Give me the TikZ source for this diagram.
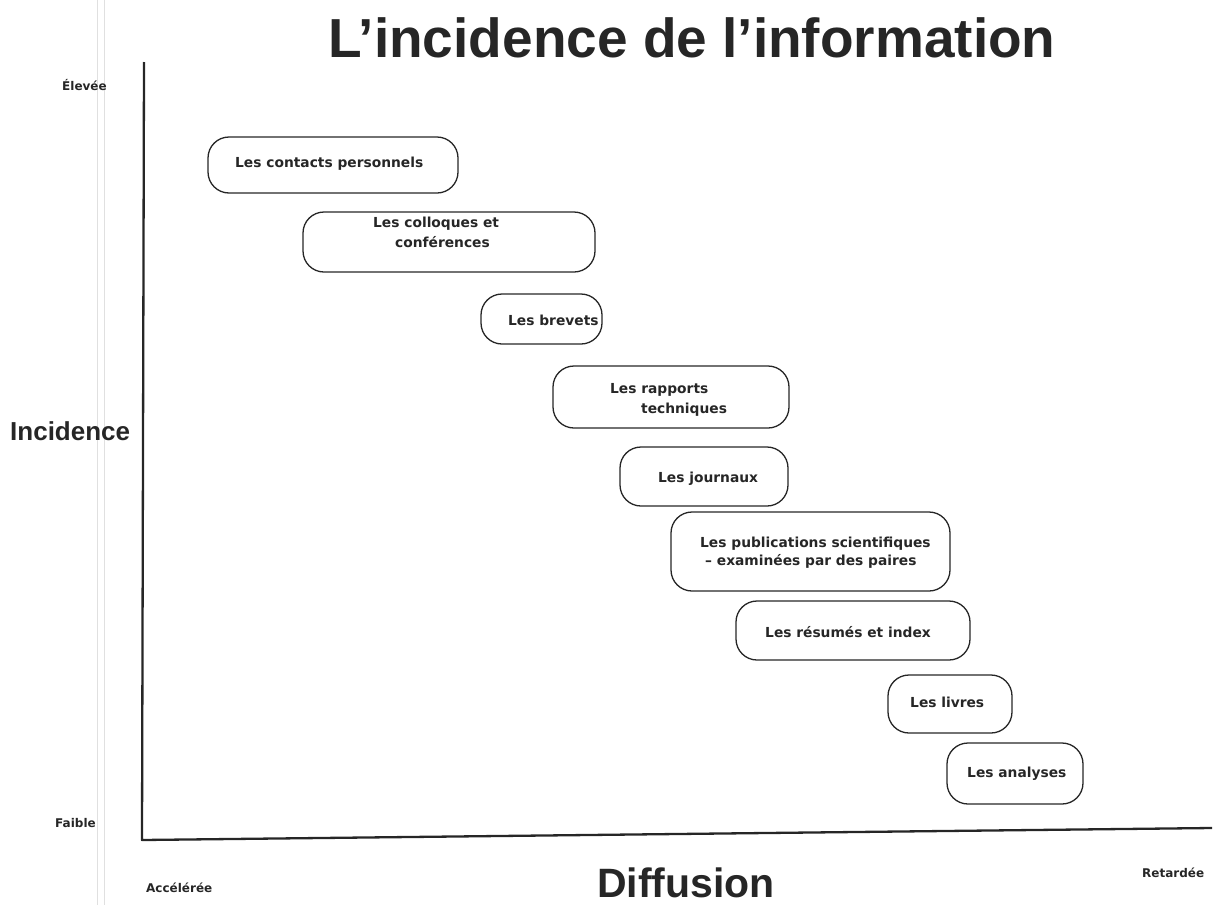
\documentclass[tikz,border=0pt]{standalone}
\usepackage{fontspec}
\setmainfont{DejaVu Sans}
\newfontfamily\headfont{Liberation Sans}
\usetikzlibrary{fit}

\tikzset{
  pill/.style={draw=black!85, line width=1.3pt, rounded corners=21pt, inner sep=0pt},
  lbl/.style={font=\bfseries\fontsize{13.8}{16}\selectfont, text=black!85, inner sep=0pt, anchor=base west},
  tick/.style={font=\bfseries\fontsize{12}{14}\selectfont, text=black!85, inner sep=0pt, anchor=base west},
  axis/.style={draw=black!85, line width=2.3pt, line join=round},
  crease/.style={draw=black!12, line width=0.7pt}
}

\begin{document}
\begin{tikzpicture}[x=1pt, y=-1pt]
  \useasboundingbox (0,0) rectangle (1215,905);

  % faint fold lines on the page
  \coordinate (f1t) at (97,0);   \coordinate (f1b) at (97,905);
  \coordinate (f2t) at (104,0);  \coordinate (f2b) at (104,905);
  \draw[crease] (f1t) -- (f1b);
  \draw[crease] (f2t) -- (f2b);

  % title
  \node[inner sep=0pt, anchor=base west, font=\headfont\bfseries\fontsize{55}{60}\selectfont, text=black!85]
    (title) at (328,57) {L’incidence de l’information};

  % axes
  \coordinate (ytop) at (144,62);
  \coordinate (orig) at (142,840);
  \coordinate (xend) at (1212,828);
  \draw[axis] (ytop) -- (orig) -- (xend);

  % axis labels
  \node[inner sep=0pt, anchor=base west, font=\headfont\bfseries\fontsize{26}{30}\selectfont, text=black!85]
    (ylab) at (10,440) {Incidence};
  \node[inner sep=0pt, anchor=base west, font=\headfont\bfseries\fontsize{41}{46}\selectfont, text=black!85]
    (xlab) at (597,897) {Diffusion};
  \node[tick] (hi)  at (62,90)   {Élevée};
  \node[tick] (lo)  at (55,827)  {Faible};
  \node[tick] (acc) at (146,892) {Accélérée};
  \node[tick] (ret) at (1142,877) {Retardée};

  % boxes
  \node[pill, fit={(208,137) (458,193)}] (b1) {};
  \node[pill, fit={(303,212) (595,272)}] (b2) {};
  \node[pill, fit={(481,294) (602,344)}] (b3) {};
  \node[pill, fit={(553,366) (789,428)}] (b4) {};
  \node[pill, fit={(620,447) (788,506)}] (b5) {};
  \node[pill, fit={(671,512) (950,591)}] (b6) {};
  \node[pill, fit={(736,601) (970,660)}] (b7) {};
  \node[pill, fit={(888,675) (1012,733)}] (b8) {};
  \node[pill, fit={(947,743) (1083,804)}] (b9) {};

  % box texts
  \node[lbl] (t1)  at (235,167) {Les contacts personnels};
  \node[lbl] (t2a) at (373,227) {Les colloques et};
  \node[lbl] (t2b) at (395,247) {conférences};
  \node[lbl] (t3)  at (508,325) {Les brevets};
  \node[lbl] (t4a) at (610,393) {Les rapports};
  \node[lbl] (t4b) at (641,413) {techniques};
  \node[lbl] (t5)  at (658,482) {Les journaux};
  \node[lbl] (t6a) at (700,547) {Les publications scientifiques};
  \node[lbl] (t6b) at (705,565) {– examinées par des paires};
  \node[lbl] (t7)  at (765,637) {Les résumés et index};
  \node[lbl] (t8)  at (910,707) {Les livres};
  \node[lbl] (t9)  at (967,777) {Les analyses};
\end{tikzpicture}
\end{document}
